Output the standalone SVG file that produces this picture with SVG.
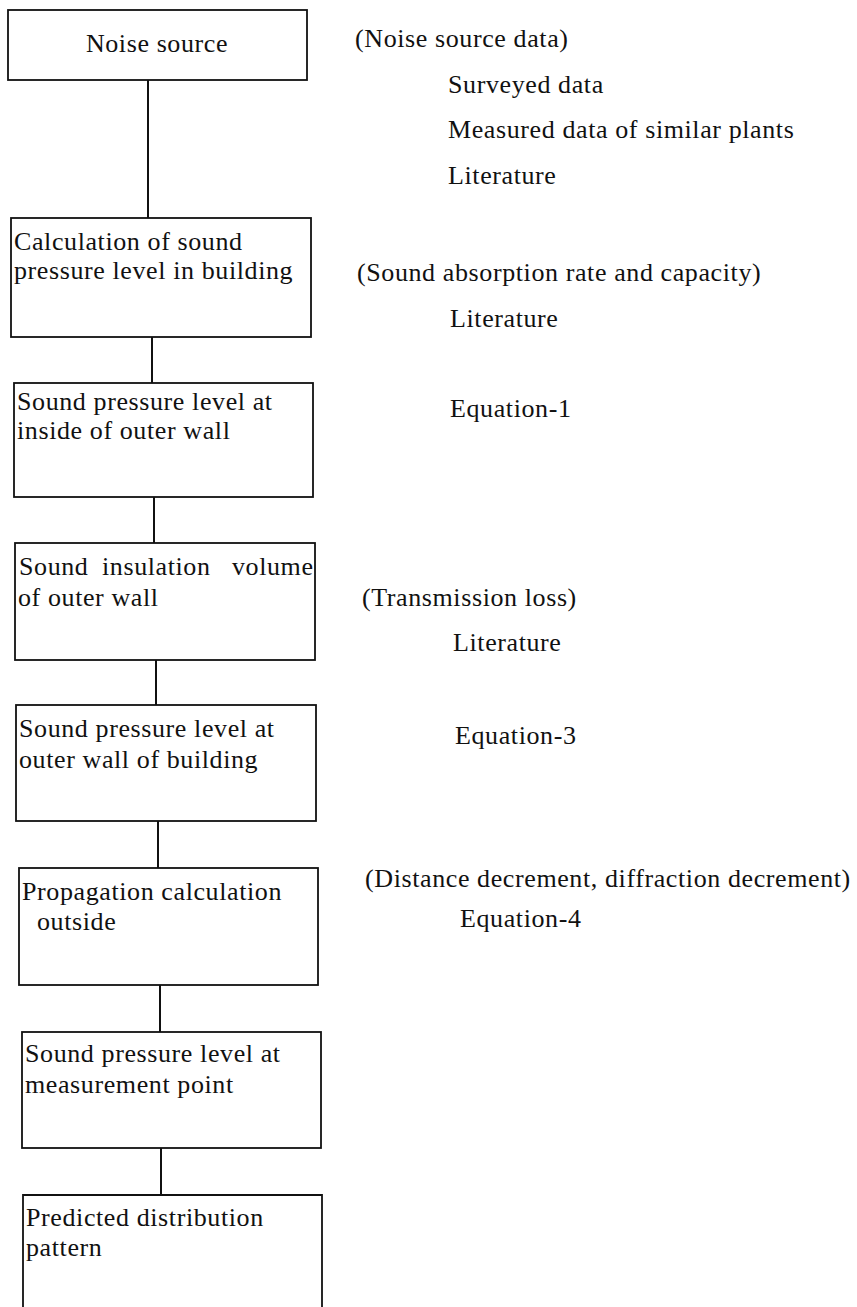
<svg xmlns="http://www.w3.org/2000/svg" width="857" height="1307" viewBox="0 0 857 1307">
<style>
  .box { fill: #ffffff; stroke: #111111; stroke-width: 1.8; }
  .conn { stroke: #111111; stroke-width: 2; fill: none; }
  text { font-family: "Liberation Serif", "Times New Roman", serif; font-size: 26px; fill: #111111; letter-spacing: 0.6px; }
</style>
<rect x="0" y="0" width="857" height="1307" fill="#ffffff"/>
<g id="connectors">
  <line class="conn" x1="148" y1="80" x2="148" y2="218"/>
  <line class="conn" x1="152" y1="337" x2="152" y2="383"/>
  <line class="conn" x1="154" y1="497" x2="154" y2="543"/>
  <line class="conn" x1="156" y1="660" x2="156" y2="705"/>
  <line class="conn" x1="158" y1="821" x2="158" y2="868"/>
  <line class="conn" x1="160" y1="985" x2="160" y2="1032"/>
  <line class="conn" x1="161" y1="1148" x2="161" y2="1195"/>
</g>
<g id="n1">
  <rect class="box" x="8" y="10" width="299" height="70"/>
  <text x="157" y="52" text-anchor="middle">Noise source</text>
</g>
<g id="n2">
  <rect class="box" x="11" y="218" width="300" height="119"/>
  <text x="14" y="250">Calculation of sound</text>
  <text x="14" y="279">pressure level in building</text>
</g>
<g id="n3">
  <rect class="box" x="14" y="383" width="299" height="114"/>
  <text x="17" y="410">Sound pressure level at</text>
  <text x="17" y="439">inside of outer wall</text>
</g>
<g id="n4">
  <rect class="box" x="15" y="543" width="300" height="117"/>
  <text y="575"><tspan x="19">Sound</tspan><tspan x="102">insulation</tspan><tspan x="232">volume</tspan></text>
  <text x="18" y="606">of outer wall</text>
</g>
<g id="n5">
  <rect class="box" x="16" y="705" width="300" height="116"/>
  <text x="19" y="737">Sound pressure level at</text>
  <text x="19" y="768">outer wall of building</text>
</g>
<g id="n6">
  <rect class="box" x="19" y="868" width="299" height="117"/>
  <text x="22" y="900">Propagation calculation</text>
  <text x="37" y="930">outside</text>
</g>
<g id="n7">
  <rect class="box" x="22" y="1032" width="299" height="116"/>
  <text x="25" y="1062">Sound pressure level at</text>
  <text x="25" y="1093">measurement point</text>
</g>
<g id="n8">
  <path class="box" d="M23,1310 L23,1195 L322,1195 L322,1310"/>
  <text x="26" y="1226">Predicted distribution</text>
  <text x="26" y="1256">pattern</text>
</g>
<g id="notes">
  <text x="355" y="47">(Noise source data)</text>
  <text x="448" y="93">Surveyed data</text>
  <text x="448" y="138">Measured data of similar plants</text>
  <text x="448" y="184">Literature</text>
  <text x="357" y="281">(Sound absorption rate and capacity)</text>
  <text x="450" y="327">Literature</text>
  <text x="450" y="417">Equation-1</text>
  <text x="362" y="606">(Transmission loss)</text>
  <text x="453" y="651">Literature</text>
  <text x="455" y="744">Equation-3</text>
  <text x="365" y="887">(Distance decrement, diffraction decrement)</text>
  <text x="460" y="927">Equation-4</text>
</g>
</svg>
